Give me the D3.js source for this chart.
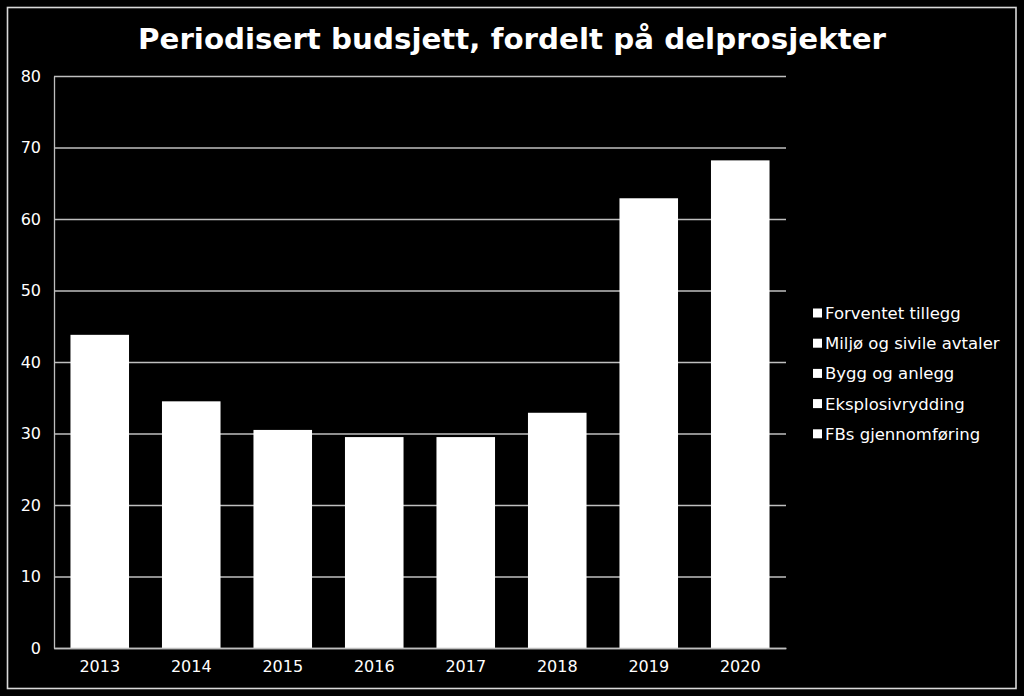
<!DOCTYPE html>
<html>
<head>
<meta charset="utf-8">
<script src="https://cdn.jsdelivr.net/npm/d3@7"></script>
<style>
  html, body { margin: 0; padding: 0; background: #000; }
  svg { display: block; }
</style>
</head>
<body>
<svg id="chart" width="1024" height="696"></svg>
<script>
const title = "Periodisert budsjett, fordelt på delprosjekter";
const years = ["2013", "2014", "2015", "2016", "2017", "2018", "2019", "2020"];
const totals = [43.8, 34.5, 30.5, 29.5, 29.5, 32.9, 62.9, 68.2];
const seriesNames = ["Forventet tillegg", "Miljø og sivile avtaler", "Bygg og anlegg", "Eksplosivrydding", "FBs gjennomføring"];
const yTicks = [0, 10, 20, 30, 40, 50, 60, 70, 80];

const svg = d3.select("#chart");
const W = 1024, H = 696;
svg.append("rect").attr("width", W).attr("height", H).attr("fill", "#000");
svg.append("rect").attr("x", 7.5).attr("y", 7.5).attr("width", 1008.5).attr("height", 681)
  .attr("fill", "none").attr("stroke", "#d9d9d9").attr("stroke-width", 1.6);

const m = { left: 54, right: 786, top: 76, bottom: 648 };
const x = d3.scaleBand().domain(years).range([m.left, m.right]).paddingInner(0.36).paddingOuter(0.18);
const y = d3.scaleLinear().domain([0, 80]).range([m.bottom, m.top]);

const font = "'DejaVu Sans', Verdana, sans-serif";

// gridlines
const grid = svg.append("g").attr("transform", `translate(${m.left},0)`)
  .call(d3.axisLeft(y).tickValues(yTicks).tickSize(-(m.right - m.left)).tickFormat(""));
grid.select(".domain").remove();
grid.selectAll("line").attr("stroke", "#bfbfbf").attr("stroke-width", 1.3).attr("x1", 0).attr("x2", m.right - m.left);

// y labels
const ya = svg.append("g").attr("transform", `translate(${m.left},0)`)
  .call(d3.axisLeft(y).tickValues(yTicks).tickSize(0).tickPadding(13));
ya.select(".domain").attr("stroke", "#bfbfbf").attr("stroke-width", 1.3);
ya.selectAll("text").attr("fill", "#fff").style("font-family", font).style("font-size", "16px");

// bars
svg.append("g").selectAll("rect").data(years).join("rect")
  .attr("x", d => x(d))
  .attr("width", x.bandwidth())
  .attr("y", (d, i) => y(totals[i]))
  .attr("height", (d, i) => y(0) - y(totals[i]))
  .attr("fill", "#fff");

// x axis
const xa = svg.append("g").attr("transform", `translate(0,${m.bottom})`)
  .call(d3.axisBottom(x).tickSize(0).tickPadding(13));
xa.select(".domain").attr("stroke", "#bfbfbf").attr("stroke-width", 1.3);
xa.selectAll("text").attr("fill", "#fff").style("font-family", font).style("font-size", "16px");

// title
svg.append("text").attr("x", 512).attr("y", 49).attr("text-anchor", "middle")
  .attr("fill", "#fff").style("font-family", font).style("font-weight", "bold")
  .style("font-size", "28px")
  .attr("textLength", 748).attr("lengthAdjust", "spacingAndGlyphs")
  .text(title);

// legend
const lg = svg.append("g");
seriesNames.forEach((name, i) => {
  const cy = 313 + i * 30.2;
  lg.append("rect").attr("x", 813).attr("y", cy - 4.5).attr("width", 9).attr("height", 9).attr("fill", "#fff");
  lg.append("text").attr("x", 825).attr("y", cy + 6).attr("fill", "#fff")
    .style("font-family", font).style("font-size", "16.5px").text(name);
});
</script>
</body>
</html>
